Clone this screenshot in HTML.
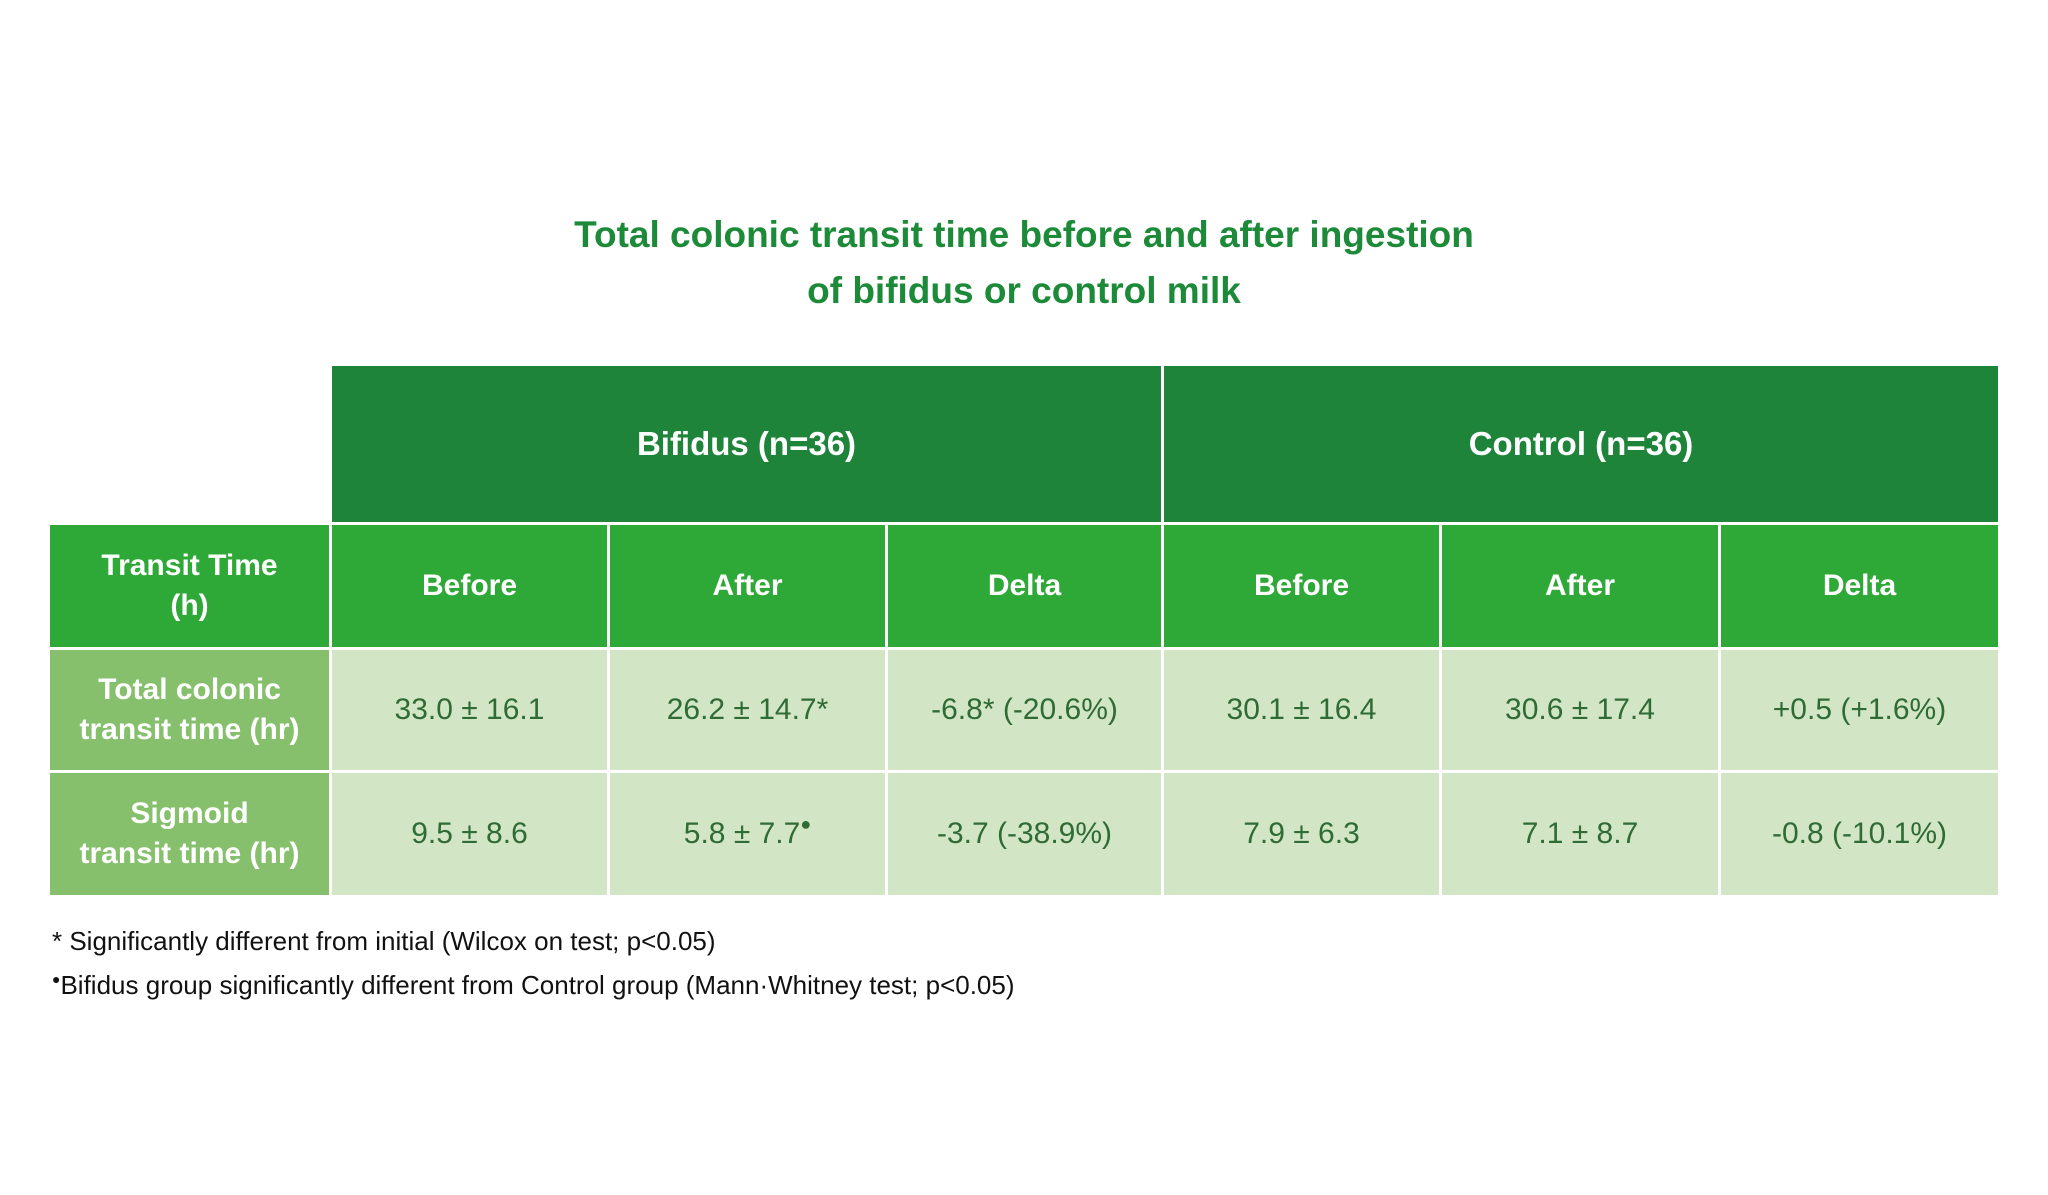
<!DOCTYPE html>
<html><head><meta charset="utf-8"><style>
body{margin:0;width:2048px;height:1195px;background:#fff;font-family:"Liberation Sans",sans-serif;position:relative;overflow:hidden}
.t{position:absolute;left:0;width:2048px;text-align:center;color:#1c8a38;font-weight:bold;font-size:37px}
.c{position:absolute;display:flex;align-items:center;justify-content:center;text-align:center;box-sizing:border-box}
.h1{background:#1e843a;color:#fff;font-weight:bold;font-size:33px}
.h2{background:#2ea836;color:#fff;font-weight:bold;font-size:30px;line-height:40px}
.lb{background:#86c06c;color:#fff;font-weight:bold;font-size:30px;line-height:40px}
.d{background:#d2e6c6;color:#2f6b35;font-size:30px}
.f{position:absolute;left:52px;font-size:26px;color:#111}
</style></head><body>
<div class="t" style="top:214px">Total colonic transit time before and after ingestion</div>
<div class="t" style="top:270px">of bifidus or control milk</div>
<div class="c h1" style="left:332px;top:366px;width:829px;height:156px">Bifidus (n=36)</div>
<div class="c h1" style="left:1164px;top:366px;width:834px;height:156px">Control (n=36)</div>
<div class="c h2" style="left:50px;top:525px;width:279px;height:122px">Transit Time<br>(h)</div>
<div class="c h2" style="left:332px;top:525px;width:275px;height:122px">Before</div>
<div class="c h2" style="left:610px;top:525px;width:275px;height:122px">After</div>
<div class="c h2" style="left:888px;top:525px;width:273px;height:122px">Delta</div>
<div class="c h2" style="left:1164px;top:525px;width:275px;height:122px">Before</div>
<div class="c h2" style="left:1442px;top:525px;width:276px;height:122px">After</div>
<div class="c h2" style="left:1721px;top:525px;width:277px;height:122px">Delta</div>
<div class="c lb" style="left:50px;top:650px;width:279px;height:120px">Total colonic<br>transit time (hr)</div>
<div class="c d" style="left:332px;top:650px;width:275px;height:120px">33.0 ± 16.1</div>
<div class="c d" style="left:610px;top:650px;width:275px;height:120px">26.2 ± 14.7*</div>
<div class="c d" style="left:888px;top:650px;width:273px;height:120px">-6.8* (-20.6%)</div>
<div class="c d" style="left:1164px;top:650px;width:275px;height:120px">30.1 ± 16.4</div>
<div class="c d" style="left:1442px;top:650px;width:276px;height:120px">30.6 ± 17.4</div>
<div class="c d" style="left:1721px;top:650px;width:277px;height:120px">+0.5 (+1.6%)</div>
<div class="c lb" style="left:50px;top:773px;width:279px;height:122px">Sigmoid<br>transit time (hr)</div>
<div class="c d" style="left:332px;top:773px;width:275px;height:122px">9.5 ± 8.6</div>
<div class="c d" style="left:610px;top:773px;width:275px;height:122px">5.8 ± 7.7 <span style="font-size:18px;position:relative;top:-10px">●</span></div>
<div class="c d" style="left:888px;top:773px;width:273px;height:122px">-3.7 (-38.9%)</div>
<div class="c d" style="left:1164px;top:773px;width:275px;height:122px">7.9 ± 6.3</div>
<div class="c d" style="left:1442px;top:773px;width:276px;height:122px">7.1 ± 8.7</div>
<div class="c d" style="left:1721px;top:773px;width:277px;height:122px">-0.8 (-10.1%)</div>
<div class="f" style="top:926px">* Significantly different from initial (Wilcox on test; p&lt;0.05)</div>
<div class="f" style="top:970px"><span style="font-size:14px;position:relative;top:-10px">●</span>Bifidus group significantly different from Control group (Mann·Whitney test; p&lt;0.05)</div>
</body></html>
